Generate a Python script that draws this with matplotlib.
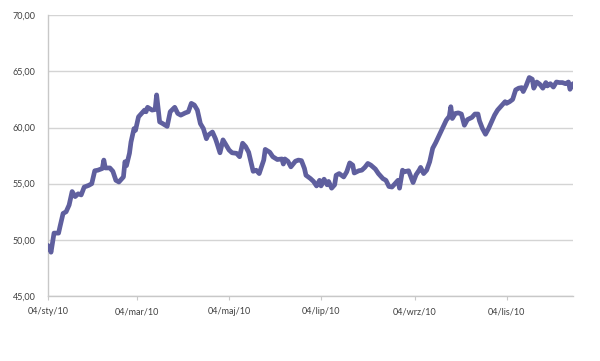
import matplotlib
matplotlib.use("Agg")
import matplotlib.pyplot as plt
import matplotlib.dates as mdates
import pandas as pd

plt.rcParams['font.family'] = ['Lato', 'DejaVu Sans']

start_date = "2010-01-04"
day_offsets = [0, 1, 2, 4, 7, 8, 10, 12, 14, 16, 18, 20, 22, 24, 27, 29, 31, 33, 36, 37,
               38, 41, 43, 45, 47, 50, 51, 52, 54, 55, 57, 58, 60,
               62, 64, 65, 66, 69, 71, 72, 74, 76, 79, 81, 84, 86, 88, 91, 93, 95, 97,
               99, 101, 103, 105, 106, 109, 111, 112, 114, 116, 118, 120,
               122, 125, 127, 129, 131, 133, 136, 138, 140, 143, 144, 147, 149, 152,
               155, 156, 157, 159, 161, 164, 166, 168, 170, 171, 174, 176, 178, 180,
               181, 183, 185, 186, 188, 190, 191, 193, 196, 198, 200, 202, 203, 206,
               208, 210, 212, 214, 217, 219, 222, 224, 226, 228, 230, 232, 233, 235,
               236, 239, 240, 242, 244, 246, 247, 249, 251, 253, 255, 257, 260, 262,
               264, 266, 267, 268, 270, 272, 274, 276, 278, 281, 283, 285, 286, 288,
               290, 292, 294, 296, 298, 300, 303, 304, 306, 308, 310, 312, 314, 315,
               317, 319, 321, 322, 324, 326, 328, 330, 331, 333, 335, 337, 339, 341,
               343, 345, 346, 348]
values = [49.5, 49.3, 48.9, 50.6, 50.6, 51.2, 52.35, 52.5, 53.1, 54.3, 53.85, 54.1, 54.0,
          54.7, 54.85, 55.0, 56.15, 56.2, 56.35, 57.1,
          56.4, 56.4, 56.1, 55.3, 55.15, 55.6, 56.95, 56.6, 57.7, 58.7, 59.9, 59.75, 60.95,
          61.25, 61.55, 61.4, 61.8, 61.55, 61.6, 62.9, 60.5, 60.35, 60.1, 61.4, 61.8,
          61.25, 61.1, 61.3, 61.4, 62.15, 62.0,
          61.55, 60.35, 59.9, 59.0, 59.3, 59.6, 59.0, 58.6, 57.75, 58.9, 58.45, 58.0,
          57.75, 57.7, 57.4, 58.6, 58.3, 57.8, 56.1, 56.2, 55.9, 57.1, 58.05, 57.8,
          57.4, 57.15,
          57.2, 56.75, 57.2, 57.0, 56.5, 57.0, 57.1, 57.05, 56.35, 55.75, 55.45, 55.2,
          54.8, 55.3,
          54.8, 55.4, 54.9, 55.2, 54.6, 54.9, 55.75, 55.9, 55.6, 56.05, 56.85, 56.65,
          55.95, 56.15,
          56.2, 56.45, 56.8, 56.65, 56.3, 55.9, 55.45, 55.3, 54.75, 54.7, 55.0, 55.3,
          54.6, 56.2,
          56.05, 56.15, 55.8, 55.1, 55.8, 56.2, 56.45, 55.9, 56.2, 56.95, 58.15, 58.65,
          59.5, 60.05,
          60.65, 61.0, 61.85, 60.8, 61.25, 61.3, 61.2, 60.2, 60.7, 60.9, 61.2, 61.2,
          60.6, 59.9,
          59.4, 59.9, 60.5, 61.1, 61.55, 61.85, 62.3, 62.15, 62.3, 62.5, 63.35, 63.5,
          63.55, 63.2,
          63.75, 64.45, 64.3, 63.5, 64.05, 63.85, 63.5, 64.0, 63.7, 63.9, 63.6, 64.05,
          64.0, 64.0,
          63.9, 64.05, 63.4, 63.9]

tick_dates = ["2010-01-04", "2010-03-04", "2010-05-04", "2010-07-04", "2010-09-04", "2010-11-04"]
tick_labels = ["04/sty/10", "04/mar/10", "04/maj/10", "04/lip/10", "04/wrz/10", "04/lis/10"]
y_ticks = [45, 50, 55, 60, 65, 70]
y_labels = ["45,00", "50,00", "55,00", "60,00", "65,00", "70,00"]

dates = pd.Timestamp(start_date) + pd.to_timedelta(day_offsets, unit="D")

fig = plt.figure(figsize=(6.0, 3.61), dpi=100)
ax = fig.add_axes([0.08, 0.18, 0.875, 0.778])

ax.plot(dates, values, color="#5f5f9e", linewidth=3.4, solid_joinstyle="round",
        solid_capstyle="round", zorder=3)

ax.set_ylim(45, 70)
ax.set_xlim(dates[0], dates[-1])
ax.set_yticks(y_ticks)
ax.set_yticklabels(y_labels)
ax.set_xticks(pd.to_datetime(tick_dates))
ax.set_xticklabels(tick_labels)

ax.grid(axis="y", color="#d4d4d4", linewidth=1.0, zorder=0)
for side in ["top", "right"]:
    ax.spines[side].set_visible(False)
ax.spines["left"].set_color("#c8c8c8")
ax.spines["bottom"].set_color("#c8c8c8")
ax.spines["left"].set_linewidth(1.0)
ax.spines["bottom"].set_linewidth(1.0)

ax.tick_params(axis="y", length=0, pad=9, labelsize=6.5, labelcolor="#404040")
ax.tick_params(axis="x", length=3, color="#c8c8c8", pad=5, labelsize=6.5,
               labelcolor="#404040")

fig.savefig("out.png", dpi=100)
